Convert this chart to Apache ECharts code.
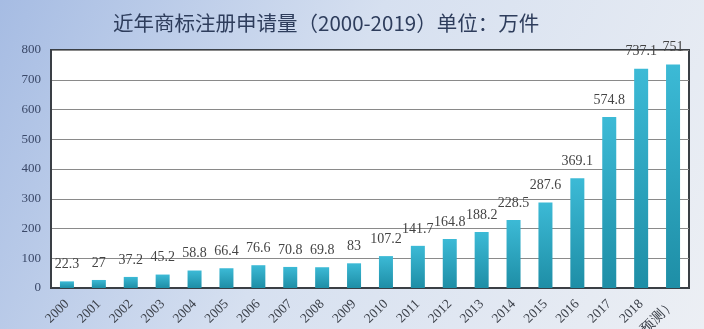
<!DOCTYPE html>
<html><head><meta charset="utf-8">
<script src="https://cdn.jsdelivr.net/npm/echarts@6/dist/echarts.min.js"></script>
<style>html,body{margin:0;padding:0;}#c{width:704px;height:329px;}</style>
</head><body><div id="c"></div>
<script>
var categories = ['2000','2001','2002','2003','2004','2005','2006','2007','2008','2009','2010','2011','2012','2013','2014','2015','2016','2017','2018','2019（预测）'];
var values = [22.3,27,37.2,45.2,58.8,66.4,76.6,70.8,69.8,83,107.2,141.7,164.8,188.2,228.5,287.6,369.1,574.8,737.1,751];
var titleText = '近年商标注册申请量（2000-2019）单位：万件';
var chart = echarts.init(document.getElementById('c'));
chart.setOption({
  animation:false,
  backgroundColor:{type:'linear',x:0,y:0,x2:1,y2:1,colorStops:[{offset:0,color:'#a6bce3'},{offset:0.45,color:'#d6e0f0'},{offset:1,color:'#eceff4'}]},
  title:{text:titleText,left:108,top:8,textStyle:{fontFamily:'Noto Sans CJK SC',fontSize:20.5,fontWeight:'normal',color:'#2e3d5c'}},
  grid:{left:51,right:15,top:50,bottom:41,containLabel:false,outerBoundsMode:'none',show:true,backgroundColor:'#ffffff',borderColor:'#3a3f45',borderWidth:2},
  xAxis:{type:'category',data:categories,axisLine:{show:true,lineStyle:{color:'#3a3f45',width:2}},axisTick:{show:false},
    axisLabel:{rotate:45,interval:0,margin:14,fontFamily:'Liberation Serif',fontSize:13.5,color:'#3a3f48'}},
  yAxis:{type:'value',min:0,max:800,interval:100,axisLine:{show:true,lineStyle:{color:'#3a3f45',width:2}},
    axisLabel:{fontFamily:'Liberation Serif',fontSize:13,color:'#3a4868',margin:10},
    splitLine:{lineStyle:{color:'#8a8a8a',width:1}}},
  series:[{type:'bar',data:values,barWidth:14,
    itemStyle:{color:{type:'linear',x:0,y:0,x2:0,y2:1,colorStops:[{offset:0,color:'#3cbad6'},{offset:1,color:'#1e8ea6'}]}},
    label:{show:true,position:'top',distance:10,fontFamily:'Liberation Serif',fontSize:14,color:'#444'}}]
});
</script></body></html>
